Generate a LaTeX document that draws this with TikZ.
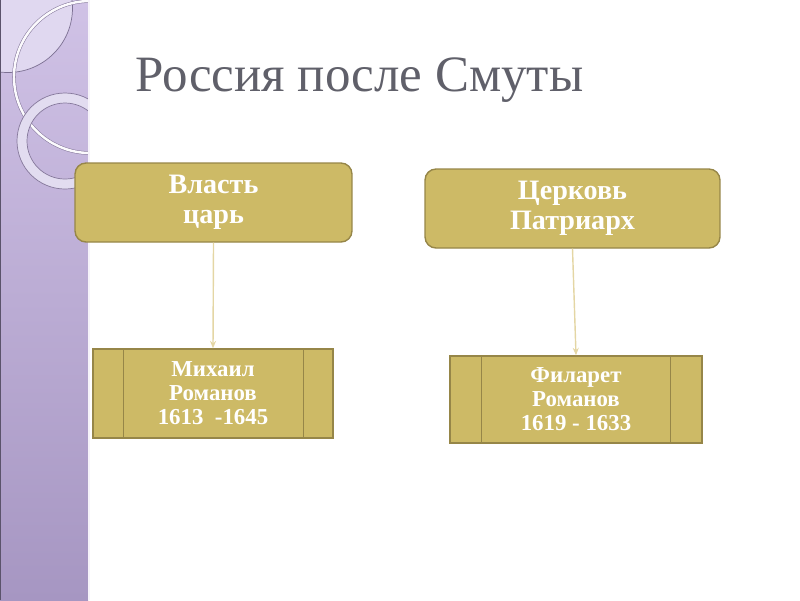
\documentclass[tikz,border=0pt]{standalone}
\usepackage{fontspec}
\setmainfont{Liberation Serif}
\usetikzlibrary{positioning,arrows.meta}
\definecolor{sidelilac}{RGB}{208,194,230}
\definecolor{sidedeep}{RGB}{166,150,194}
\definecolor{sidepale}{RGB}{224,216,240}
\definecolor{ringlilac}{RGB}{226,220,240}
\definecolor{boxgold}{RGB}{205,186,102}
\definecolor{boxedge}{RGB}{150,134,72}
\definecolor{linktan}{RGB}{228,214,164}
\definecolor{titlegray}{RGB}{96,96,106}

\begin{document}
\begin{tikzpicture}[x=0.02cm, y=-0.02cm, >={Stealth[length=1.5mm, width=1.2mm]},
  head/.style={draw=boxedge, fill=boxgold, thick, rounded corners=2.2mm, text=white,
    align=center, inner sep=0pt, font=\bfseries\fontsize{16}{17}\selectfont},
  ruler/.style={draw=boxedge, fill=boxgold, thick, text=white,
    align=center, inner sep=0pt, font=\bfseries\fontsize{13}{13.6}\selectfont}]
  \useasboundingbox (0,0) rectangle (800,600);
  % side band
  \shade[top color=sidelilac, bottom color=sidedeep] (0,0) rectangle (88,600);
  \begin{scope}
    \clip (0,0) rectangle (88,600);
    \fill[sidepale] (8,8) circle[radius=64.5];
    \draw[sidedeep!75!black, line width=0.4pt] (8,8) circle[radius=64.5];
    \draw[sidedeep!80!black, line width=2pt] (90,77) circle[radius=76];
    \draw[white!92!sidelilac, line width=1.4pt] (90,77) circle[radius=76];
    \fill[ringlilac, even odd rule] (65,141) circle[radius=48] (65,141) circle[radius=38];
    \draw[sidedeep!80!black, line width=0.4pt] (65,141) circle[radius=48] (65,141) circle[radius=38];
  \end{scope}
  \draw[sidedeep!55!black, line width=1pt] (0.5,0) -- (0.5,600);
  \fill[white!80!sidelilac] (88,0) rectangle (90,600);
  % title
  \node[anchor=base west, inner sep=0pt, text=titlegray, font=\fontsize{29}{33}\selectfont] (title) at (135,91) {Россия после Смуты};
  % upper boxes
  \node[head, minimum width=5.54cm, minimum height=1.58cm] (vlast) at (213.5,202.5) {Власть\\царь};
  \node[head, minimum width=5.9cm, minimum height=1.58cm] (tserkov) at (572.5,208.5) {Церковь\\Патриарх};
  % lower boxes
  \node[ruler, minimum width=4.8cm, minimum height=1.78cm] (mikhail) at (213,393.5) {Михаил\\Романов\\1613~~-1645};
  \node[ruler, minimum width=5.04cm, minimum height=1.74cm] (filaret) at (576,399.5) {Филарет\\Романов\\1619 - 1633};
  \draw[boxedge, thick] ([xshift=0.62cm]mikhail.north west) -- ([xshift=0.62cm]mikhail.south west);
  \draw[boxedge, thick] ([xshift=-0.6cm]mikhail.north east) -- ([xshift=-0.6cm]mikhail.south east);
  \draw[boxedge, thick] ([xshift=0.64cm]filaret.north west) -- ([xshift=0.64cm]filaret.south west);
  \draw[boxedge, thick] ([xshift=-0.64cm]filaret.north east) -- ([xshift=-0.64cm]filaret.south east);
  % links
  \draw[->, linktan, line width=0.8pt] (vlast.south) -- (mikhail.north);
  \draw[->, linktan, line width=0.8pt] (tserkov.south) -- (filaret.north);
\end{tikzpicture}
\end{document}
